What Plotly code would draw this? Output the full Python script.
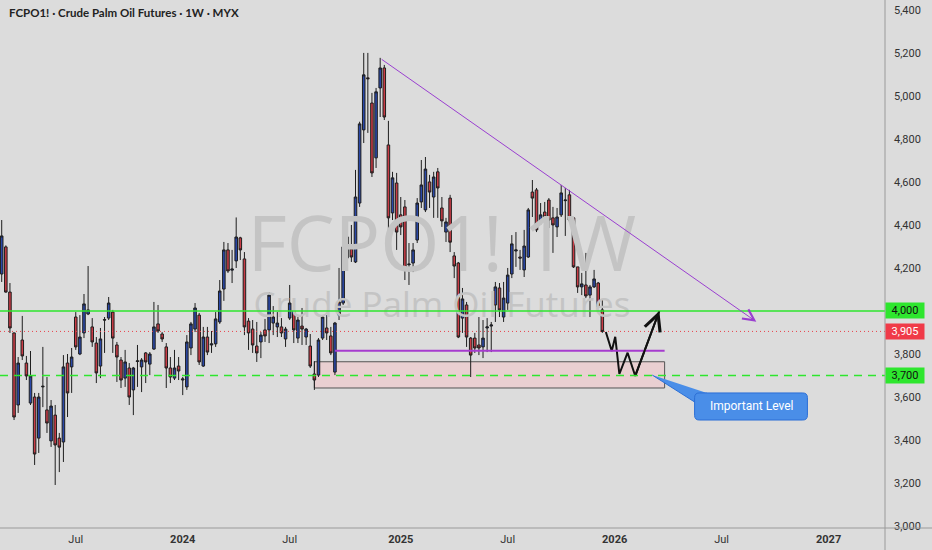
import pandas as pd
import plotly.graph_objects as go

# weekly FCPO1! candles (first bar: week of 2023-02-27)
OPEN = [4172, 4298, 4088, 3898, 3563, 3865, 3758, 3572, 3600, 3409,
        3647, 3540, 3396, 3516, 3409, 3391, 3758, 3740, 3972, 3800,
        3898, 3986, 3926, 3851, 3744, 3960, 3967, 3995, 3842, 3772,
        3688, 3735, 3633, 3765, 3740, 3805, 3753, 3823, 3940, 3893,
        3833, 3735, 3688, 3744, 3679, 3647, 3828, 3916, 3981, 3744,
        3879, 3842, 3847, 3949, 4102, 4284, 4190, 4233, 4340, 4242,
        3953, 3916, 3837, 3856, 3912, 3912, 3944, 3926, 3926, 3870,
        3967, 4000, 3874, 3930, 3879, 3837, 3707, 3702, 3874, 3921,
        3884, 3716, 3981, 4037, 4247, 4288, 4228, 4502, 4842, 5084,
        4967, 4712, 5037, 5130, 4772, 4456, 4595, 4447, 4484, 4215,
        4223, 4330, 4507, 4470, 4600, 4530, 4647, 4479, 4367, 4525,
        4256, 4223, 3967, 4028, 3874, 3874, 3842, 3833, 3921, 3930,
        4028, 4107, 3972, 4037, 4172, 4279, 4251, 4191, 4251, 4553,
        4563, 4414, 4460, 4516, 4433, 4391, 4447, 4513, 4540, 4433,
        4205, 4112, 4121, 4074, 4112, 4130, 4005]
HIGH = [4423, 4305, 4130, 3900, 3786, 3977, 3791, 3814, 3619, 3619,
        3833, 3693, 3586, 3563, 3433, 3795, 3800, 3828, 3995, 3981,
        4079, 4209, 3967, 3879, 3921, 3972, 4065, 4005, 3856, 3786,
        3819, 3758, 3740, 3842, 3781, 3809, 3809, 4042, 4028, 3902,
        3851, 3786, 3819, 3786, 3693, 3888, 3949, 4037, 3991, 3926,
        3926, 3907, 3995, 4144, 4321, 4316, 4284, 4435, 4345, 4274,
        3967, 3958, 3949, 3902, 3963, 4088, 4023, 3995, 3967, 3926,
        4121, 4014, 3972, 4014, 3921, 3893, 3767, 3874, 3981, 3981,
        3926, 3949, 4200, 4330, 4400, 4400, 4656, 4880, 5200, 5200,
        5014, 5037, 5177, 5144, 4884, 4647, 4642, 4530, 4516, 4316,
        4316, 4525, 4702, 4716, 4633, 4647, 4665, 4530, 4433, 4540,
        4274, 4228, 4107, 4042, 3879, 3898, 3972, 3958, 3967, 3949,
        4135, 4130, 4135, 4200, 4353, 4367, 4284, 4377, 4479, 4609,
        4572, 4502, 4507, 4525, 4484, 4479, 4586, 4572, 4563, 4437,
        4205, 4177, 4270, 4121, 4191, 4135, 4051]
LOW = [4135, 4085, 3898, 3493, 3526, 3772, 3679, 3563, 3284, 3340,
       3553, 3433, 3368, 3191, 3251, 3298, 3507, 3619, 3819, 3795,
       3874, 3981, 3833, 3665, 3688, 3805, 3958, 3805, 3670, 3642,
       3647, 3563, 3516, 3647, 3623, 3665, 3702, 3819, 3898, 3856,
       3642, 3665, 3679, 3679, 3609, 3633, 3795, 3902, 3749, 3740,
       3795, 3805, 3833, 3940, 4047, 4177, 4130, 4200, 4237, 3888,
       3819, 3805, 3763, 3781, 3856, 3851, 3888, 3879, 3879, 3833,
       3958, 3851, 3851, 3842, 3842, 3735, 3633, 3693, 3865, 3865,
       3795, 3702, 3958, 4028, 4228, 4228, 4223, 4484, 4781, 4828,
       4623, 4665, 4902, 4888, 4344, 4423, 4284, 4353, 4144, 4121,
       4181, 4316, 4479, 4460, 4479, 4433, 4433, 4391, 4321, 4274,
       4153, 3874, 3898, 3833, 3693, 3805, 3795, 3781, 3809, 3809,
       3949, 3972, 3949, 4005, 4153, 4205, 4191, 4158, 4247, 4437,
       4367, 4400, 4363, 4386, 4270, 4344, 4437, 4349, 4414, 4200,
       4084, 4074, 4060, 3972, 4107, 4014, 3898]
CLOSE = [4349, 4088, 3921, 3507, 3758, 3791, 3698, 3698, 3335, 3600,
         3650, 3479, 3558, 3377, 3367, 3740, 3619, 3786, 3833, 3879,
         4033, 4005, 3856, 3712, 3870, 3958, 4037, 3874, 3786, 3679,
         3763, 3600, 3735, 3768, 3772, 3763, 3800, 3926, 3907, 3870,
         3735, 3693, 3735, 3721, 3684, 3856, 3940, 4014, 3763, 3879,
         3809, 3847, 3963, 4093, 4284, 4186, 4195, 4344, 4284, 3926,
         3898, 3842, 3805, 3888, 3884, 4074, 3972, 3944, 3898, 3916,
         4037, 3912, 3958, 3916, 3916, 3744, 3679, 3865, 3972, 3898,
         3805, 3944, 4042, 4298, 4344, 4251, 4530, 4870, 5098, 5080,
         4642, 5019, 5130, 4902, 4433, 4619, 4367, 4391, 4191, 4218,
         4284, 4502, 4586, 4660, 4553, 4623, 4572, 4419, 4414, 4320,
         4209, 3879, 4056, 3879, 3795, 3828, 3828, 3874, 3926, 3935,
         4112, 4005, 4060, 4167, 4312, 4284, 4246, 4302, 4470, 4525,
         4377, 4447, 4437, 4423, 4400, 4437, 4549, 4516, 4423, 4205,
         4112, 4126, 4070, 4112, 4149, 4019, 3905]
DATES = pd.date_range("2023-02-27", periods=len(CLOSE), freq="7D")

LAST_PRICE = 3905
LEVELS = [4000, 3700]
Y_TICKS = [p for p in range(3000, 5401, 200) if p not in LEVELS]
X_TICKS = ["2023-07-03", "2024-01-01", "2024-07-01", "2025-01-06",
           "2025-07-07", "2026-01-05", "2026-07-06", "2027-01-04"]
X_LABELS = ["Jul", "<b>2024</b>", "Jul", "<b>2025</b>",
            "Jul", "<b>2026</b>", "Jul", "<b>2027</b>"]

# drawings on the chart
TREND = (["2024-12-02", "2026-09-03"], [5175, 3950])
SUPPORT = (["2024-09-16", "2026-03-31"], 3815)
ZONE = (["2024-08-12", "2026-03-31"], [3642, 3764])
ZIGZAG_X = ["2025-12-21", "2025-12-31", "2026-01-06", "2026-01-13",
            "2026-01-27", "2026-02-09", "2026-03-22"]
ZIGZAG_Y = [3902, 3814, 3880, 3707, 3806, 3698, 4000]
CALLOUT_TAIL_X = ["2026-03-10", "2026-05-21", "2026-06-11"]
CALLOUT_TAIL_Y = [3702, 3577, 3619]
CALLOUT_BOX = (["2026-05-21", "2026-11-29"], [3493, 3619])

BG = "#dcdcdc"
BLUE = "#2a48a8"
RED = "#c93c46"
GREEN = "#2ee62e"
PURPLE = "#9a3fd0"


def ms(d):
    return pd.Timestamp(d).value // 10**6


def rounded_box(xs, ys, rx_days=8, ry=22):
    x0, x1 = ms(xs[0]), ms(xs[1])
    y0, y1 = ys
    rx = rx_days * 86400000
    return (f"M{x0 + rx},{y0} L{x1 - rx},{y0} Q{x1},{y0} {x1},{y0 + ry} "
            f"L{x1},{y1 - ry} Q{x1},{y1} {x1 - rx},{y1} "
            f"L{x0 + rx},{y1} Q{x0},{y1} {x0},{y1 - ry} "
            f"L{x0},{y0 + ry} Q{x0},{y0} {x0 + rx},{y0} Z")


fig = go.Figure()

# watermark sits behind the candles
fig.add_trace(go.Scatter(
    x=["2025-03-17", "2025-03-17"], y=[4275, 4012], mode="text",
    text=["FCPO1! 1W", "Crude Palm Oil Futures"],
    textfont=dict(family="Open Sans", size=[76, 35], color="#c4c4c4"),
    hoverinfo="skip", showlegend=False,
))

fig.add_trace(go.Candlestick(
    x=DATES, open=OPEN, high=HIGH, low=LOW, close=CLOSE,
    increasing=dict(fillcolor=BLUE, line=dict(color="#1e1e1e", width=1)),
    decreasing=dict(fillcolor=RED, line=dict(color="#1e1e1e", width=1)),
    whiskerwidth=0, showlegend=False,
))

fig.add_trace(go.Scatter(
    x=ZIGZAG_X, y=ZIGZAG_Y, mode="lines",
    line=dict(color="#111111", width=2), hoverinfo="skip", showlegend=False,
))

fig.add_trace(go.Scatter(
    x=CALLOUT_TAIL_X, y=CALLOUT_TAIL_Y, mode="lines", fill="toself",
    fillcolor="#4a8ee8", line=dict(color="#2c6fd6", width=1),
    hoverinfo="skip", showlegend=False,
))

shapes = [
    dict(type="rect", xref="x", yref="y", x0=ZONE[0][0], x1=ZONE[0][1],
         y0=ZONE[1][0], y1=ZONE[1][1], fillcolor="rgba(244,196,200,0.55)",
         line=dict(color="#555555", width=1), layer="below"),
    dict(type="line", xref="paper", yref="y", x0=0, x1=1, y0=4000, y1=4000,
         line=dict(color=GREEN, width=1.6)),
    dict(type="line", xref="paper", yref="y", x0=0, x1=1, y0=3700, y1=3700,
         line=dict(color=GREEN, width=1.6, dash="8px,6px")),
    dict(type="line", xref="paper", yref="y", x0=0, x1=1,
         y0=LAST_PRICE, y1=LAST_PRICE,
         line=dict(color="#e8404a", width=1, dash="1px,3px")),
    dict(type="line", xref="x", yref="y", x0=SUPPORT[0][0], x1=SUPPORT[0][1],
         y0=SUPPORT[1], y1=SUPPORT[1], line=dict(color="#a63ccf", width=2)),
    dict(type="path", xref="x", yref="y", path=rounded_box(*CALLOUT_BOX),
         fillcolor="#4a8ee8", line=dict(color="#2c6fd6", width=1)),
    # frame lines of the price / time scales
    dict(type="line", xref="paper", yref="paper", x0=0, x1=1.06, y0=0, y1=0,
         line=dict(color="#9a9a9a", width=1)),
    dict(type="line", xref="paper", yref="paper", x0=1, x1=1, y0=-0.05, y1=1,
         line=dict(color="#9a9a9a", width=1)),
]

annotations = [
    dict(xref="paper", yref="paper", x=0.008, y=0.977, xanchor="left",
         yanchor="middle", showarrow=False,
         text="<b>FCPO1! · Crude Palm Oil Futures · 1W · MYX</b>",
         font=dict(family="Lato", size=11.5, color="#222222")),
    # trend line with its small arrow head
    dict(xref="x", yref="y", axref="x", ayref="y",
         x=TREND[0][1], y=TREND[1][1], ax=TREND[0][0], ay=TREND[1][0],
         text="", showarrow=True, arrowhead=5, arrowsize=2.2,
         arrowwidth=1, arrowcolor=PURPLE),
    # last leg of the projected path
    dict(xref="x", yref="y", axref="x", ayref="y",
         x=ZIGZAG_X[-1], y=ZIGZAG_Y[-1], ax=ZIGZAG_X[-2], ay=ZIGZAG_Y[-2],
         text="", showarrow=True, arrowhead=5, arrowsize=1.6,
         arrowwidth=2, arrowcolor="#111111"),
    dict(xref="x", yref="y", x="2026-08-25", y=3556, showarrow=False,
         text="Important Level",
         font=dict(family="Roboto", size=12, color="white")),
]

for price, bg, fg in [(4000, GREEN, "#111111"), (LAST_PRICE, "#f03a48", "white"),
                      (3700, GREEN, "#111111")]:
    annotations.append(dict(
        xref="paper", yref="y", x=1, y=price, xanchor="left", yanchor="middle",
        showarrow=False, text=f"{price:,}", bgcolor=bg, width=36, height=13,
        font=dict(family="Roboto", size=11, color=fg),
    ))

fig.update_layout(
    width=932, height=550,
    margin=dict(l=0, r=47, t=0, b=22),
    paper_bgcolor=BG, plot_bgcolor=BG,
    shapes=shapes, annotations=annotations,
    boxgap=0.12,
    xaxis=dict(
        type="date", range=["2023-02-24 02:00", "2027-04-10"],
        rangeslider=dict(visible=False),
        tickvals=X_TICKS, ticktext=X_LABELS,
        showgrid=False, zeroline=False, showline=False, ticks="",
        ticklabelstandoff=3,
        tickfont=dict(family="Roboto", size=11, color="#333333"),
    ),
    yaxis=dict(
        side="right", range=[2991, 5446], tickvals=Y_TICKS, tickformat=",",
        showgrid=False, zeroline=False, showline=False, ticks="",
        ticklabelstandoff=8,
        tickfont=dict(family="Roboto", size=11, color="#333333"),
    ),
)

# page body margin would otherwise shift the chart by 8px
fig.write_html(
    "out.html",
    config={"displayModeBar": False},
    post_script="document.body.style.margin='0';",
)
